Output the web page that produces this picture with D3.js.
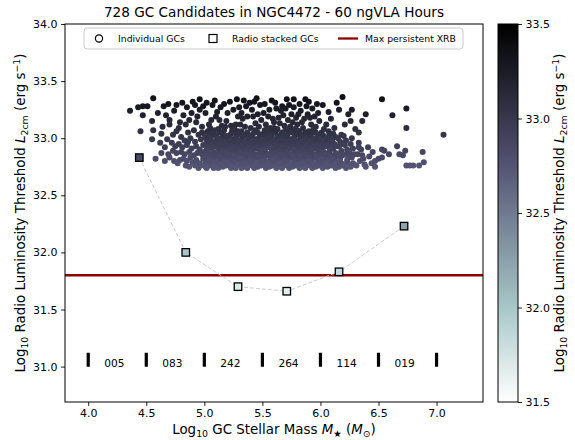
<!DOCTYPE html>
<html>
<head>
<meta charset="utf-8">
<script src="https://cdn.jsdelivr.net/npm/d3@7"></script>
<style>
body { margin: 0; background: #fff; }
text { font-family: "DejaVu Sans", sans-serif; }
</style>
</head>
<body>
<div class="chart"></div>
<script>
//Chart text
const titleText = "728 GC Candidates in NGC4472 - 60 ngVLA Hours";
const legendLabels = ["Individual GCs", "Radio stacked GCs", "Max persistent XRB"];

//Tick values
const xTicks = [4.0, 4.5, 5.0, 5.5, 6.0, 6.5, 7.0];
const yTicks = [31.0, 31.5, 32.0, 32.5, 33.0, 33.5, 34.0];
const cbarTicks = [31.5, 32.0, 32.5, 33.0, 33.5];

//Mass bins and number of GCs in each
const binEdges = [4.0, 4.5, 5.0, 5.5, 6.0, 6.5, 7.0];
const binCounts = ["005", "083", "242", "264", "114", "019"];

//Stacked GCs (log mass, log luminosity)
const stackMass = [4.44, 4.84, 5.29, 5.71, 6.16, 6.72];
const stackLum = [32.83, 32.00, 31.70, 31.66, 31.83, 32.23];

//Max persistent XRB level
const xrbLum = 31.80;

//Individual GCs, grouped by mass bin: [log mass, log luminosity]
const gcBin1 = [[4.36,33.24],[4.43,33.27],[4.47,33.28],[4.47,33.20],[4.45,33.06]];

const gcBin2 = [[4.51,33.28],[4.56,33.35],[4.65,33.28],[4.69,33.30],[4.76,33.29],[4.90,33.32],[4.96,33.34],[4.55,33.15],[4.70,33.16],[4.70,33.12],
  [4.82,33.20],[4.89,33.22],[4.96,33.25],[4.56,33.07],[4.63,33.04],[4.55,32.99],[4.62,32.96],[4.73,33.03],[4.72,32.96],[4.80,33.01],
  [4.69,32.86],[4.76,32.87],[4.58,32.82],[4.70,32.83],[4.79,32.81],[4.60,33.22],[4.74,33.24],[4.85,33.27],
  [4.78,33.09],[4.84,33.12],[4.93,33.14],[4.98,33.10],[4.86,33.05],[4.91,33.07],[4.95,33.03],[4.83,32.98],[4.88,33.00],[4.92,32.97],
  [4.97,32.99],[4.99,32.94],[4.75,32.93],[4.78,32.95],[4.81,32.92],[4.85,32.94],[4.89,32.91],[4.93,32.93],[4.96,32.90],[4.73,32.89],
  [4.80,32.88],[4.83,32.86],[4.87,32.88],[4.91,32.85],[4.94,32.87],[4.98,32.86],[4.74,32.80],[4.77,32.78],[4.82,32.82],[4.85,32.80],
  [4.88,32.83],[4.90,32.79],[4.93,32.81],[4.96,32.78],[4.99,32.82],[4.84,32.76],[4.87,32.75],[4.92,32.76],[4.95,32.74],[4.97,32.76],
  [4.66,32.92],[4.68,32.99],[4.64,33.10],[4.79,33.14],[4.87,33.16],[4.94,33.19],[4.99,33.28],[4.92,33.29],[4.81,33.31],[4.67,33.20],
  [4.76,33.06],[4.66,32.80],[4.63,32.87],[4.98,33.05],[4.86,32.97]];

const gcBin3 = [[5.01,32.75],[5.03,32.78],[5.02,32.83],[5.04,32.80],[5.00,32.88],[5.03,32.91],[5.01,32.95],[5.04,32.86],[5.02,32.99],[5.04,33.02],
  [5.00,33.04],[5.03,32.94],[5.01,32.79],[5.04,32.76],[5.02,32.90],[5.00,32.84],[5.03,33.06],[5.01,33.01],[5.04,32.97],[5.02,32.74],
  [5.06,32.77],[5.08,32.74],[5.07,32.81],[5.09,32.79],[5.05,32.85],[5.08,32.88],[5.06,32.92],[5.09,32.84],[5.07,32.96],[5.05,33.00],
  [5.08,33.03],[5.06,32.98],[5.09,32.93],[5.07,32.76],[5.05,32.80],[5.09,33.07],[5.06,32.87],[5.08,32.95],[5.07,33.05],[5.09,32.75],
  [5.11,32.76],[5.13,32.79],[5.12,32.74],[5.14,32.82],[5.10,32.86],[5.13,32.89],[5.11,32.93],[5.14,32.87],[5.12,32.97],[5.14,33.00],
  [5.10,33.02],[5.13,33.05],[5.11,32.80],[5.14,32.77],[5.12,32.91],[5.10,32.96],[5.13,32.84],[5.11,32.99],[5.14,32.94],[5.12,33.08],
  [5.16,32.75],[5.18,32.78],[5.17,32.82],[5.19,32.76],[5.15,32.84],[5.18,32.87],[5.16,32.90],[5.19,32.85],[5.17,32.94],[5.15,32.98],
  [5.18,33.01],[5.16,33.04],[5.19,32.97],[5.17,32.79],[5.15,32.77],[5.19,32.92],[5.16,32.88],[5.18,32.95],[5.17,33.07],[5.19,33.02],
  [5.21,32.77],[5.23,32.74],[5.22,32.80],[5.24,32.78],[5.20,32.83],[5.23,32.86],[5.21,32.89],[5.24,32.83],[5.22,32.93],[5.20,32.96],
  [5.23,32.99],[5.21,33.02],[5.24,32.95],[5.22,32.76],[5.20,32.79],[5.24,32.90],[5.21,32.85],[5.23,33.04],[5.22,32.98],[5.24,33.07],
  [5.26,32.75],[5.28,32.78],[5.27,32.82],[5.29,32.77],[5.25,32.86],[5.28,32.89],[5.26,32.92],[5.29,32.85],[5.27,32.96],[5.25,32.99],
  [5.28,33.02],[5.26,33.05],[5.29,32.94],[5.27,32.74],[5.25,32.80],[5.29,32.91],[5.26,32.84],[5.28,32.97],[5.27,33.00],[5.29,33.06],
  [5.31,32.76],[5.33,32.79],[5.32,32.74],[5.34,32.81],[5.30,32.85],[5.33,32.88],[5.31,32.91],[5.34,32.86],[5.32,32.95],[5.30,32.98],
  [5.33,33.01],[5.31,33.04],[5.34,32.97],[5.32,32.78],[5.30,32.82],[5.34,32.92],[5.31,32.87],[5.33,32.94],[5.32,33.06],[5.34,33.02],
  [5.36,32.75],[5.38,32.77],[5.37,32.81],[5.39,32.79],[5.35,32.84],[5.38,32.87],[5.36,32.90],[5.39,32.84],[5.37,32.94],[5.35,32.97],
  [5.38,33.00],[5.36,33.03],[5.39,32.96],[5.37,32.74],[5.35,32.78],[5.39,32.90],[5.36,32.86],[5.38,32.93],[5.37,33.05],[5.39,33.01],
  [5.41,32.76],[5.43,32.74],[5.42,32.80],[5.44,32.77],[5.40,32.83],[5.43,32.86],[5.41,32.89],[5.44,32.83],[5.42,32.93],[5.40,32.96],
  [5.43,32.99],[5.41,33.02],[5.44,32.95],[5.42,32.77],[5.40,32.80],[5.44,32.91],[5.41,32.85],[5.43,32.97],[5.42,33.04],[5.44,33.07],
  [5.46,32.75],[5.48,32.78],[5.47,32.82],[5.49,32.76],[5.45,32.86],[5.48,32.89],[5.46,32.92],[5.49,32.85],[5.47,32.96],[5.45,32.99],
  [5.48,33.02],[5.46,33.05],[5.49,32.94],[5.47,32.79],[5.45,32.77],[5.49,32.91],[5.46,32.84],[5.48,32.97],[5.47,33.00],[5.49,33.03],
  [5.02,33.31],[5.07,33.29],[5.11,33.23],[5.10,33.19],[5.22,33.32],[5.28,33.34],[5.25,33.25],[5.39,33.31],[5.43,33.32],[5.48,33.29],
  [5.41,33.25],[5.46,33.21],[5.19,33.15],[5.33,33.17],[5.04,33.12],[5.06,33.16],[5.14,33.27],[5.17,33.30],[5.15,33.11],[5.20,33.22],
  [5.27,33.12],[5.30,33.27],[5.32,33.22],[5.35,33.10],[5.37,33.19],[5.44,33.13],[5.49,33.16],[5.01,33.22],[5.09,33.33],[5.13,33.16],
  [5.23,33.11],[5.29,33.19],[5.36,33.28],[5.40,33.09],[5.47,33.10],[5.05,33.09],[5.18,33.10],[5.26,33.08],[5.31,33.12],[5.42,33.19],
  [5.45,33.35],[5.34,33.33]];

const gcBin4 = [[5.51,32.77],[5.53,32.74],[5.52,32.81],[5.54,32.79],[5.50,32.84],[5.53,32.87],[5.51,32.91],[5.54,32.85],[5.52,32.95],[5.50,32.98],
  [5.53,33.01],[5.51,33.04],[5.54,32.96],[5.52,32.76],[5.50,32.80],[5.54,32.92],[5.51,32.88],[5.53,32.99],[5.52,33.07],[5.54,33.03],
  [5.56,32.75],[5.58,32.78],[5.57,32.82],[5.59,32.76],[5.55,32.86],[5.58,32.89],[5.56,32.93],[5.59,32.84],[5.57,32.96],[5.55,33.00],
  [5.58,33.03],[5.56,33.06],[5.59,32.95],[5.57,32.79],[5.55,32.77],[5.59,32.91],[5.56,32.85],[5.58,32.98],[5.57,33.01],[5.59,33.08],
  [5.61,32.76],[5.63,32.79],[5.62,32.74],[5.64,32.82],[5.60,32.85],[5.63,32.88],[5.61,32.92],[5.64,32.86],[5.62,32.95],[5.60,32.99],
  [5.63,33.02],[5.61,33.05],[5.64,32.97],[5.62,32.78],[5.60,32.81],[5.64,32.93],[5.61,32.87],[5.63,32.94],[5.62,33.07],[5.64,33.01],
  [5.66,32.75],[5.68,32.77],[5.67,32.81],[5.69,32.79],[5.65,32.84],[5.68,32.87],[5.66,32.90],[5.69,32.84],[5.67,32.94],[5.65,32.97],
  [5.68,33.00],[5.66,33.03],[5.69,32.96],[5.67,32.74],[5.65,32.78],[5.69,32.90],[5.66,32.86],[5.68,32.93],[5.67,33.05],[5.69,33.02],
  [5.71,32.76],[5.73,32.74],[5.72,32.80],[5.74,32.77],[5.70,32.83],[5.73,32.86],[5.71,32.89],[5.74,32.83],[5.72,32.93],[5.70,32.96],
  [5.73,32.99],[5.71,33.02],[5.74,32.95],[5.72,32.77],[5.70,32.80],[5.74,32.91],[5.71,32.85],[5.73,32.97],[5.72,33.04],[5.74,33.06],
  [5.76,32.75],[5.78,32.78],[5.77,32.82],[5.79,32.76],[5.75,32.86],[5.78,32.89],[5.76,32.92],[5.79,32.85],[5.77,32.96],[5.75,32.99],
  [5.78,33.02],[5.76,33.05],[5.79,32.94],[5.77,32.79],[5.75,32.77],[5.79,32.91],[5.76,32.84],[5.78,32.97],[5.77,33.00],[5.79,33.04],
  [5.81,32.76],[5.83,32.79],[5.82,32.74],[5.84,32.81],[5.80,32.85],[5.83,32.88],[5.81,32.91],[5.84,32.86],[5.82,32.95],[5.80,32.98],
  [5.83,33.01],[5.81,33.04],[5.84,32.97],[5.82,32.78],[5.80,32.82],[5.84,32.92],[5.81,32.87],[5.83,32.94],[5.82,33.06],[5.84,33.02],
  [5.86,32.75],[5.88,32.77],[5.87,32.81],[5.89,32.79],[5.85,32.84],[5.88,32.87],[5.86,32.90],[5.89,32.84],[5.87,32.94],[5.85,32.97],
  [5.88,33.00],[5.86,33.03],[5.89,32.96],[5.87,32.74],[5.85,32.78],[5.89,32.90],[5.86,32.86],[5.88,32.93],[5.87,33.05],[5.89,33.01],
  [5.91,32.76],[5.93,32.74],[5.92,32.80],[5.94,32.77],[5.90,32.83],[5.93,32.86],[5.91,32.89],[5.94,32.83],[5.92,32.93],[5.90,32.96],
  [5.93,32.99],[5.91,33.02],[5.94,32.95],[5.92,32.77],[5.90,32.80],[5.94,32.91],[5.91,32.85],[5.93,32.97],[5.92,33.04],[5.94,33.00],
  [5.96,32.75],[5.98,32.78],[5.97,32.82],[5.99,32.76],[5.95,32.86],[5.98,32.89],[5.96,32.92],[5.99,32.85],[5.97,32.96],[5.95,32.99],
  [5.98,33.02],[5.96,33.05],[5.99,32.94],[5.97,32.79],[5.95,32.77],[5.99,32.91],[5.96,32.84],[5.98,32.97],[5.97,33.00],[5.99,33.03],
  [5.77,33.34],[5.90,33.32],[5.73,33.29],[5.67,33.28],[5.70,33.26],[5.77,33.27],[5.98,33.22],[5.55,33.19],[5.62,33.26],[5.66,33.24],
  [5.52,33.30],[5.58,33.33],[5.60,33.14],[5.64,33.18],[5.69,33.11],[5.72,33.16],[5.75,33.21],[5.80,33.12],[5.83,33.24],[5.86,33.17],
  [5.88,33.28],[5.92,33.12],[5.95,33.19],[5.97,33.30],[5.53,33.12],[5.57,33.09],[5.63,33.08],[5.68,33.20],[5.74,33.10],[5.79,33.18],
  [5.82,33.30],[5.85,33.09],[5.89,33.21],[5.93,33.26],[5.96,33.10],[5.99,33.15],[5.51,33.22],[5.56,33.25],[5.61,33.31],[5.71,33.34],
  [5.78,33.08],[5.84,33.14],[5.87,33.34],[5.94,33.08],[5.59,33.17],[5.65,33.13],[5.76,33.14],[5.81,33.21],[5.91,33.18],[5.54,33.08],
  [5.52,32.89],[5.57,32.92],[5.62,32.83],[5.67,32.98],[5.72,32.87],[5.77,32.90],[5.82,32.84],[5.87,32.99],[5.92,32.88],[5.97,32.93],
  [5.60,33.09],[5.70,33.08],[5.80,33.07],[5.90,33.06]];

const gcBin5 = [[6.01,32.76],[6.03,32.79],[6.02,32.74],[6.04,32.82],[6.00,32.85],[6.03,32.88],[6.01,32.92],[6.04,32.86],[6.02,32.95],[6.00,32.99],
  [6.03,33.02],[6.01,33.05],[6.04,32.97],[6.02,32.78],[6.00,32.81],[6.04,32.93],[6.01,32.88],[6.03,33.08],
  [6.06,32.75],[6.08,32.78],[6.07,32.82],[6.09,32.76],[6.05,32.86],[6.08,32.89],[6.06,32.93],[6.09,32.85],[6.07,32.96],[6.05,33.00],
  [6.08,33.03],[6.06,32.79],[6.09,32.94],[6.07,33.06],[6.05,32.77],[6.09,32.99],
  [6.11,32.76],[6.13,32.74],[6.12,32.80],[6.14,32.78],[6.10,32.84],[6.13,32.87],[6.11,32.91],[6.14,32.84],[6.12,32.95],[6.10,32.98],
  [6.13,33.01],[6.11,33.04],[6.14,32.93],[6.12,32.77],[6.10,32.81],
  [6.16,32.75],[6.18,32.78],[6.17,32.82],[6.19,32.76],[6.15,32.86],[6.18,32.89],[6.16,32.93],[6.19,32.85],[6.17,32.97],[6.15,33.00],
  [6.18,33.03],[6.16,32.79],[6.19,32.95],
  [6.21,32.76],[6.23,32.79],[6.22,32.74],[6.24,32.83],[6.20,32.86],[6.23,32.90],[6.21,32.94],[6.24,32.87],[6.22,32.98],[6.20,33.02],
  [6.23,32.81],
  [6.26,32.75],[6.28,32.78],[6.27,32.83],[6.29,32.77],[6.25,32.87],[6.28,32.91],[6.26,32.95],[6.29,32.86],[6.27,33.00],
  [6.31,32.76],[6.33,32.96],[6.34,32.80],[6.32,32.86],[6.36,32.85],[6.38,32.77],[6.35,32.90],[6.37,32.82],[6.39,32.75],[6.33,32.92],
  [6.41,32.92],[6.42,32.84],[6.47,32.80],[6.47,32.75],[6.44,32.78],[6.45,32.88],
  [6.02,33.29],[6.19,33.36],[6.16,33.25],[6.27,33.25],[6.24,33.21],[6.09,33.17],[6.36,33.15],[6.39,33.21],[6.05,33.12],[6.12,33.09],
  [6.21,33.12],[6.30,33.08],[6.07,33.23],[6.14,33.31],[6.33,33.05],[6.26,33.15]];

const gcBin6 = [[6.53,33.34],[6.74,33.26],[6.62,33.20],[6.74,33.09],[6.66,32.93],[6.73,32.89],[6.88,32.88],[6.53,32.90],[6.55,32.89],[6.59,32.86],
  [6.68,32.86],[6.71,32.85],[6.89,32.79],[6.85,32.76],[6.74,32.76],[6.77,32.76],[6.50,32.82],[6.53,32.83],[6.80,32.76]];

const gcBin7 = [[7.06,33.03]];

//Create margins
const margin = {top:24, left:65, bottom:38, right:92};
const width = 575-margin.left-margin.right;
const height = 440-margin.top-margin.bottom;

//Create svg
const svgRoot = d3
  .select('.chart')
  .append('svg')
  .attr('width', 575)
  .attr('height', 440);

const svg = svgRoot
  .append('g')
  .attr('transform', 'translate('+margin.left+','+margin.top+')');

//Create x and y scales
const xScale = d3.scaleLinear().domain([3.80, 7.40]).range([0, width]);
const yScale = d3.scaleLinear().domain([30.69, 34.0]).range([height, 0]);

//bone_r colour map
const colorScale = d3.scaleLinear()
  .domain([31.5, 32.008, 32.770, 33.5])
  .range(["#ffffff", "#a6c6c6", "#515171", "#000000"])
  .clamp(true);

//Axes
const xAxis = d3.axisBottom(xScale).tickValues(xTicks).tickFormat(d3.format(".1f"))
  .tickSize(3.9).tickPadding(3.5);
const yAxis = d3.axisLeft(yScale).tickValues(yTicks).tickFormat(d3.format(".1f"))
  .tickSize(3.9).tickPadding(3.5);

svg.append('g')
  .attr('class', 'axis x-axis')
  .attr('transform', `translate(0, ${height})`)
  .call(xAxis);
svg.append('g')
  .attr('class', 'axis y-axis')
  .call(yAxis);

svg.selectAll('.axis .domain').remove();
svg.selectAll('.axis text').attr('font-size', 11).attr('fill', '#000').attr('font-family', '"DejaVu Sans", sans-serif');
svg.selectAll('.axis line').attr('stroke', '#000').attr('stroke-width', 0.9);

//Red XRB line
svg.append('line')
  .attr('x1', 0).attr('x2', width)
  .attr('y1', yScale(xrbLum)).attr('y2', yScale(xrbLum))
  .attr('stroke', '#8b0000')
  .attr('stroke-width', 2.3);

//Individual GCs
const gcAll = gcBin1.concat(gcBin2, gcBin3, gcBin4, gcBin5, gcBin6, gcBin7);
svg.append('g')
  .selectAll('circle')
  .data(gcAll)
  .enter()
  .append('circle')
  .attr('cx', d => xScale(d[0]))
  .attr('cy', d => yScale(d[1]))
  .attr('r', 3.0)
  .attr('fill', d => colorScale(d[1]));

//Stacked GCs
const stackData = stackMass.map((m, i) => ({mass: m, lum: stackLum[i]}));
svg.append('path')
  .datum(stackData)
  .attr('fill', 'none')
  .attr('stroke', '#cccccc')
  .attr('stroke-width', 1)
  .attr('stroke-dasharray', '4,2')
  .attr('d', d3.line().x(d => xScale(d.mass)).y(d => yScale(d.lum)));

const sq = 7.5;
svg.append('g')
  .selectAll('rect')
  .data(stackData)
  .enter()
  .append('rect')
  .attr('x', d => xScale(d.mass) - sq/2)
  .attr('y', d => yScale(d.lum) - sq/2)
  .attr('width', sq)
  .attr('height', sq)
  .attr('fill', d => colorScale(d.lum))
  .attr('stroke', '#000')
  .attr('stroke-width', 1.3);

//Bin edge markers and counts
svg.append('g')
  .selectAll('line')
  .data(binEdges)
  .enter()
  .append('line')
  .attr('x1', d => xScale(d)).attr('x2', d => xScale(d))
  .attr('y1', yScale(31.06) - 7).attr('y2', yScale(31.06) + 7)
  .attr('stroke', '#000')
  .attr('stroke-width', 3.2);

svg.append('g')
  .selectAll('text')
  .data(binCounts)
  .enter()
  .append('text')
  .attr('x', (d, i) => xScale(binEdges[i] + 0.225))
  .attr('y', yScale(31.03))
  .attr('dy', '0.36em')
  .attr('text-anchor', 'middle')
  .attr('font-size', 10.6)
  .text(d => d);

//Frame
svg.append('rect')
  .attr('width', width)
  .attr('height', height)
  .attr('fill', 'none')
  .attr('stroke', '#000')
  .attr('stroke-width', 1);

//Legend
const legend = svg.append('g').attr('transform', 'translate(19,4)');
legend.append('rect')
  .attr('width', 379).attr('height', 21)
  .attr('rx', 3)
  .attr('fill', '#fff').attr('fill-opacity', 0.8)
  .attr('stroke', '#cccccc').attr('stroke-width', 1);
legend.append('circle')
  .attr('cx', 15).attr('cy', 10.5).attr('r', 3.6)
  .attr('fill', 'none').attr('stroke', '#000').attr('stroke-width', 1.2);
legend.append('rect')
  .attr('x', 125).attr('y', 6.5).attr('width', 8).attr('height', 8)
  .attr('fill', 'none').attr('stroke', '#000').attr('stroke-width', 1.2);
legend.append('line')
  .attr('x1', 254).attr('x2', 274).attr('y1', 10.5).attr('y2', 10.5)
  .attr('stroke', '#8b0000').attr('stroke-width', 2.3);
const legendX = [34, 148, 281];
legend.selectAll('text.leg')
  .data(legendLabels)
  .enter()
  .append('text')
  .attr('class', 'leg')
  .attr('x', (d, i) => legendX[i])
  .attr('y', 10.5)
  .attr('dy', '0.35em')
  .attr('font-size', 9.3)
  .text(d => d);

//Title
svgRoot.append('text')
  .attr('x', margin.left + width/2)
  .attr('y', 12)
  .attr('dy', '0.35em')
  .attr('text-anchor', 'middle')
  .attr('font-size', 13.6)
  .text(titleText);

//X axis title
const xTitle = svgRoot.append('text')
  .attr('x', margin.left + width/2)
  .attr('y', 434)
  .attr('text-anchor', 'middle')
  .attr('font-size', 13.4);
xTitle.append('tspan').text('Log');
xTitle.append('tspan').attr('font-size', 9.4).attr('dy', 3).text('10');
xTitle.append('tspan').attr('dy', -3).text(' GC Stellar Mass ');
xTitle.append('tspan').attr('font-style', 'italic').text('M');
xTitle.append('tspan').attr('font-size', 9.4).attr('dy', 3).text('\u2605');
xTitle.append('tspan').attr('dy', -3).text(' (');
xTitle.append('tspan').attr('font-style', 'italic').text('M');
xTitle.append('tspan').attr('font-size', 9.4).attr('dy', 3).text('\u2299');
xTitle.append('tspan').attr('dy', -3).text(')');

//Luminosity label used on y axis and colour bar
function lumLabel(sel) {
  sel.append('tspan').text('Log');
  sel.append('tspan').attr('font-size', 9.4).attr('dy', 3).text('10');
  sel.append('tspan').attr('dy', -3).text(' Radio Luminosity Threshold ');
  sel.append('tspan').attr('font-style', 'italic').text('L');
  sel.append('tspan').attr('font-size', 9.4).attr('dy', 3).text('2cm');
  sel.append('tspan').attr('dy', -3).text(' (erg s');
  sel.append('tspan').attr('font-size', 9.4).attr('dy', -5).text('\u22121');
  sel.append('tspan').attr('dy', 5).text(')');
}

svgRoot.append('text')
  .attr('transform', `translate(25, ${margin.top + height/2}) rotate(-90)`)
  .attr('text-anchor', 'middle')
  .attr('font-size', 13.4)
  .call(lumLabel);

//Colour bar
const cbX = 498, cbW = 20;
const cbScale = d3.scaleLinear().domain([31.5, 33.5]).range([margin.top + height, margin.top]);
const grad = svgRoot.append('defs').append('linearGradient')
  .attr('id', 'cbgrad')
  .attr('x1', 0).attr('y1', 1).attr('x2', 0).attr('y2', 0);
grad.selectAll('stop')
  .data(colorScale.domain())
  .enter()
  .append('stop')
  .attr('offset', d => (d - 31.5) / 2)
  .attr('stop-color', d => colorScale(d));
svgRoot.append('rect')
  .attr('x', cbX).attr('y', margin.top)
  .attr('width', cbW).attr('height', height)
  .attr('fill', 'url(#cbgrad)')
  .attr('stroke', '#000').attr('stroke-width', 1);

const cbAxis = svgRoot.append('g')
  .attr('transform', `translate(${cbX + cbW}, 0)`)
  .call(d3.axisRight(cbScale).tickValues(cbarTicks).tickFormat(d3.format(".1f")).tickSize(3.9).tickPadding(3.5));
cbAxis.select('.domain').remove();
cbAxis.selectAll('text').attr('font-size', 11).attr('fill', '#000').attr('font-family', '"DejaVu Sans", sans-serif');
cbAxis.selectAll('line').attr('stroke', '#000').attr('stroke-width', 0.9);

svgRoot.append('text')
  .attr('transform', `translate(564, ${margin.top + height/2}) rotate(-90)`)
  .attr('text-anchor', 'middle')
  .attr('font-size', 13.4)
  .call(lumLabel);
</script>
</body>
</html>
